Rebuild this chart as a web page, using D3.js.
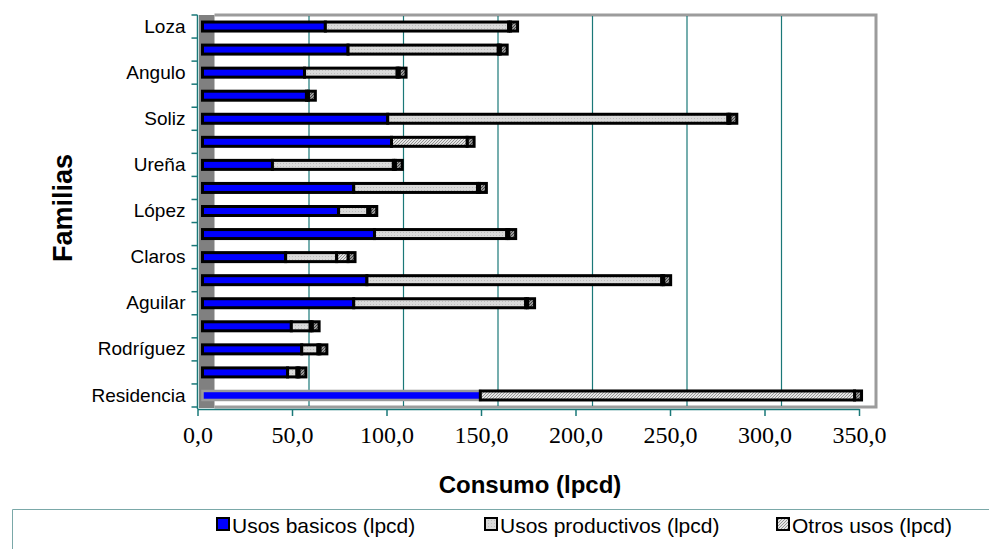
<!DOCTYPE html>
<html>
<head>
<meta charset="utf-8">
<script src="https://cdn.jsdelivr.net/npm/d3@7"></script>
<style>
  html, body { margin: 0; padding: 0; background: #fff; }
  svg { display: block; }
</style>
</head>
<body>
<svg id="chart" width="989" height="549"></svg>
<script>
// Consumo de agua por familia (lpcd), barras apiladas
const familias = ["Loza", "", "Angulo", "", "Soliz", "", "Ureña", "", "López", "",
                  "Claros", "", "Aguilar", "", "Rodríguez", "", "Residencia"];
const usosBasicos     = [65, 77, 54, 55, 98, 100, 37, 80, 72, 91, 44, 87, 80, 47, 52.5, 45, 147];
const usosProductivos = [97, 79.5, 49, 0, 180, 0, 64, 65.5, 15.5, 70, 27, 156, 91, 10, 8.6, 5, 0];
const otrosUsos       = [1, 1, 1, 1, 1, 40, 1, 1, 1, 1, 6, 1, 1, 1, 1, 1, 198];
const serieNombres = ["Usos basicos (lpcd)", "Usos productivos (lpcd)", "Otros usos (lpcd)"];
const xTicks = [0, 50, 100, 150, 200, 250, 300, 350];

const svg = d3.select("#chart");
const teal = "#1a7878";
const sans = "Liberation Sans, Arial, sans-serif";
const depth = 17;      // profundidad de la pared del fondo
const barShift = 5;    // las barras se sitúan algo detrás del eje frontal
const capDepth = 7;    // cara lateral visible de cada barra

const x = d3.scaleLinear().domain([0, 350]).range([197.5, 859]);
const y = d3.scaleBand().domain(d3.range(familias.length)).range([15, 407]);

// Patrones de relleno
const defs = svg.append("defs");
const dots = defs.append("pattern").attr("id", "pProd").attr("patternUnits", "userSpaceOnUse")
  .attr("width", 3).attr("height", 3);
dots.append("rect").attr("width", 3).attr("height", 3).attr("fill", "#dadada");
dots.append("rect").attr("x", 1).attr("y", 1).attr("width", 1).attr("height", 1).attr("fill", "#bcbcbc");

function hatch(id, bg, fg) {
  const p = defs.append("pattern").attr("id", id).attr("patternUnits", "userSpaceOnUse")
    .attr("width", 3).attr("height", 3);
  p.append("rect").attr("width", 3).attr("height", 3).attr("fill", bg);
  p.append("path").attr("d", "M0,3 L3,0 M-1,1 L1,-1 M2,4 L4,2").attr("stroke", fg).attr("stroke-width", 0.9);
}
hatch("pOtros", "#e4e4e4", "#8a8a8a");
hatch("pCara", "#9a9a9a", "#3c3c3c");

const fills = ["#0000ff", "url(#pProd)", "url(#pOtros)"];

// Pared del fondo y pared lateral
const x0 = x(0), x1 = x(350);
svg.append("rect").attr("x", x0 + 1.5).attr("y", 15).attr("width", depth - 1.5).attr("height", 393)
  .attr("fill", "#808080");
svg.append("path")
  .attr("d", `M${x0 + depth},15 H${x1 + depth} V407 H${x0 + depth}`)
  .attr("fill", "none").attr("stroke", "#9c9c9c").attr("stroke-width", 3);

// Líneas de división
svg.append("g").selectAll("line").data(xTicks.filter(d => d > 0 && d < 350)).join("line")
  .attr("x1", d => x(d) + depth).attr("x2", d => x(d) + depth)
  .attr("y1", 16).attr("y2", 406)
  .attr("stroke", teal).attr("stroke-width", 1.2);

// Barras apiladas
const rows = familias.map((f, i) => {
  const vals = [usosBasicos[i], usosProductivos[i], otrosUsos[i]];
  let acc = 0;
  const segs = vals.map((v, k) => { const s = { k, a: acc, b: acc + v }; acc += v; return s; })
                   .filter(s => s.b > s.a);
  return { i, segs, total: acc };
});

const barH = 9;
const bars = svg.append("g");
rows.forEach(r => {
  const yc = y(r.i) + y.bandwidth() / 2;
  const g = bars.append("g");
  const last = r.segs[r.segs.length - 1];
  // cara lateral (profundidad) al final de la barra
  g.append("rect")
    .attr("x", x(r.total) + barShift).attr("y", yc - barH / 2)
    .attr("width", capDepth).attr("height", barH)
    .attr("fill", last.k === 0 ? "#00008a" : "url(#pCara)")
    .attr("stroke", "#000").attr("stroke-width", 3);
  r.segs.forEach(s => {
    const residencia = r.i === familias.length - 1 && s.k === 0;
    g.append("rect")
      .attr("x", x(s.a) + barShift).attr("y", yc - barH / 2)
      .attr("width", x(s.b) - x(s.a)).attr("height", barH)
      .attr("fill", fills[s.k])
      .attr("stroke", residencia ? "#9a9a9a" : "#000")
      .attr("stroke-width", residencia ? 2.5 : 3);
  });
});

// Eje de categorías
const yAxis = svg.append("g").attr("transform", `translate(${x0},0)`)
  .call(d3.axisLeft(y).tickSize(0).tickPadding(12).tickFormat(i => familias[i]));
yAxis.select(".domain").remove();
yAxis.selectAll("text").attr("font-family", sans).attr("font-size", 19).attr("fill", "#000");
svg.append("line").attr("x1", x0).attr("x2", x0).attr("y1", 15).attr("y2", 409)
  .attr("stroke", teal).attr("stroke-width", 1.5);
svg.append("g").selectAll("line").data(d3.range(familias.length + 1)).join("line")
  .attr("x1", x0 - 6).attr("x2", x0)
  .attr("y1", i => i < familias.length ? y(i) : y(i - 1) + y.bandwidth())
  .attr("y2", i => i < familias.length ? y(i) : y(i - 1) + y.bandwidth())
  .attr("stroke", teal).attr("stroke-width", 1.5);

// Eje de valores
const fmt = d => d3.format(".1f")(d).replace(".", ",");
const xAxis = svg.append("g").attr("transform", "translate(0,409)")
  .call(d3.axisBottom(x).tickValues(xTicks).tickSize(7).tickSizeOuter(0).tickPadding(10).tickFormat(fmt));
xAxis.select(".domain").attr("stroke", teal).attr("stroke-width", 1.5);
xAxis.selectAll(".tick line").attr("stroke", teal).attr("stroke-width", 1.5);
xAxis.selectAll("text").attr("font-family", "Liberation Serif, Times New Roman, serif")
  .attr("font-size", 24).attr("fill", "#000");

// Títulos de ejes
svg.append("text").attr("x", 530).attr("y", 493).attr("text-anchor", "middle")
  .attr("font-family", sans).attr("font-weight", "bold")
  .attr("font-size", 24).text("Consumo (lpcd)");
svg.append("text").attr("transform", "translate(72,208) rotate(-90)").attr("text-anchor", "middle")
  .attr("font-family", sans).attr("font-weight", "bold")
  .attr("font-size", 27).text("Familias");

// Leyenda
svg.append("path").attr("d", "M989,509.5 H12.5 V549").attr("fill", "none")
  .attr("stroke", "#7aa8a8").attr("stroke-width", 1);
const legX = [216, 484, 776];
const leg = svg.append("g").selectAll("g").data(serieNombres).join("g")
  .attr("transform", (d, i) => `translate(${legX[i]},0)`);
leg.append("rect").attr("x", 1).attr("y", 518).attr("width", 12).attr("height", 12)
  .attr("fill", (d, i) => fills[i]).attr("stroke", "#000").attr("stroke-width", 2);
leg.append("text").attr("x", 16).attr("y", 533)
  .attr("font-family", sans).attr("font-size", 21)
  .text(d => d);
</script>
</body>
</html>
